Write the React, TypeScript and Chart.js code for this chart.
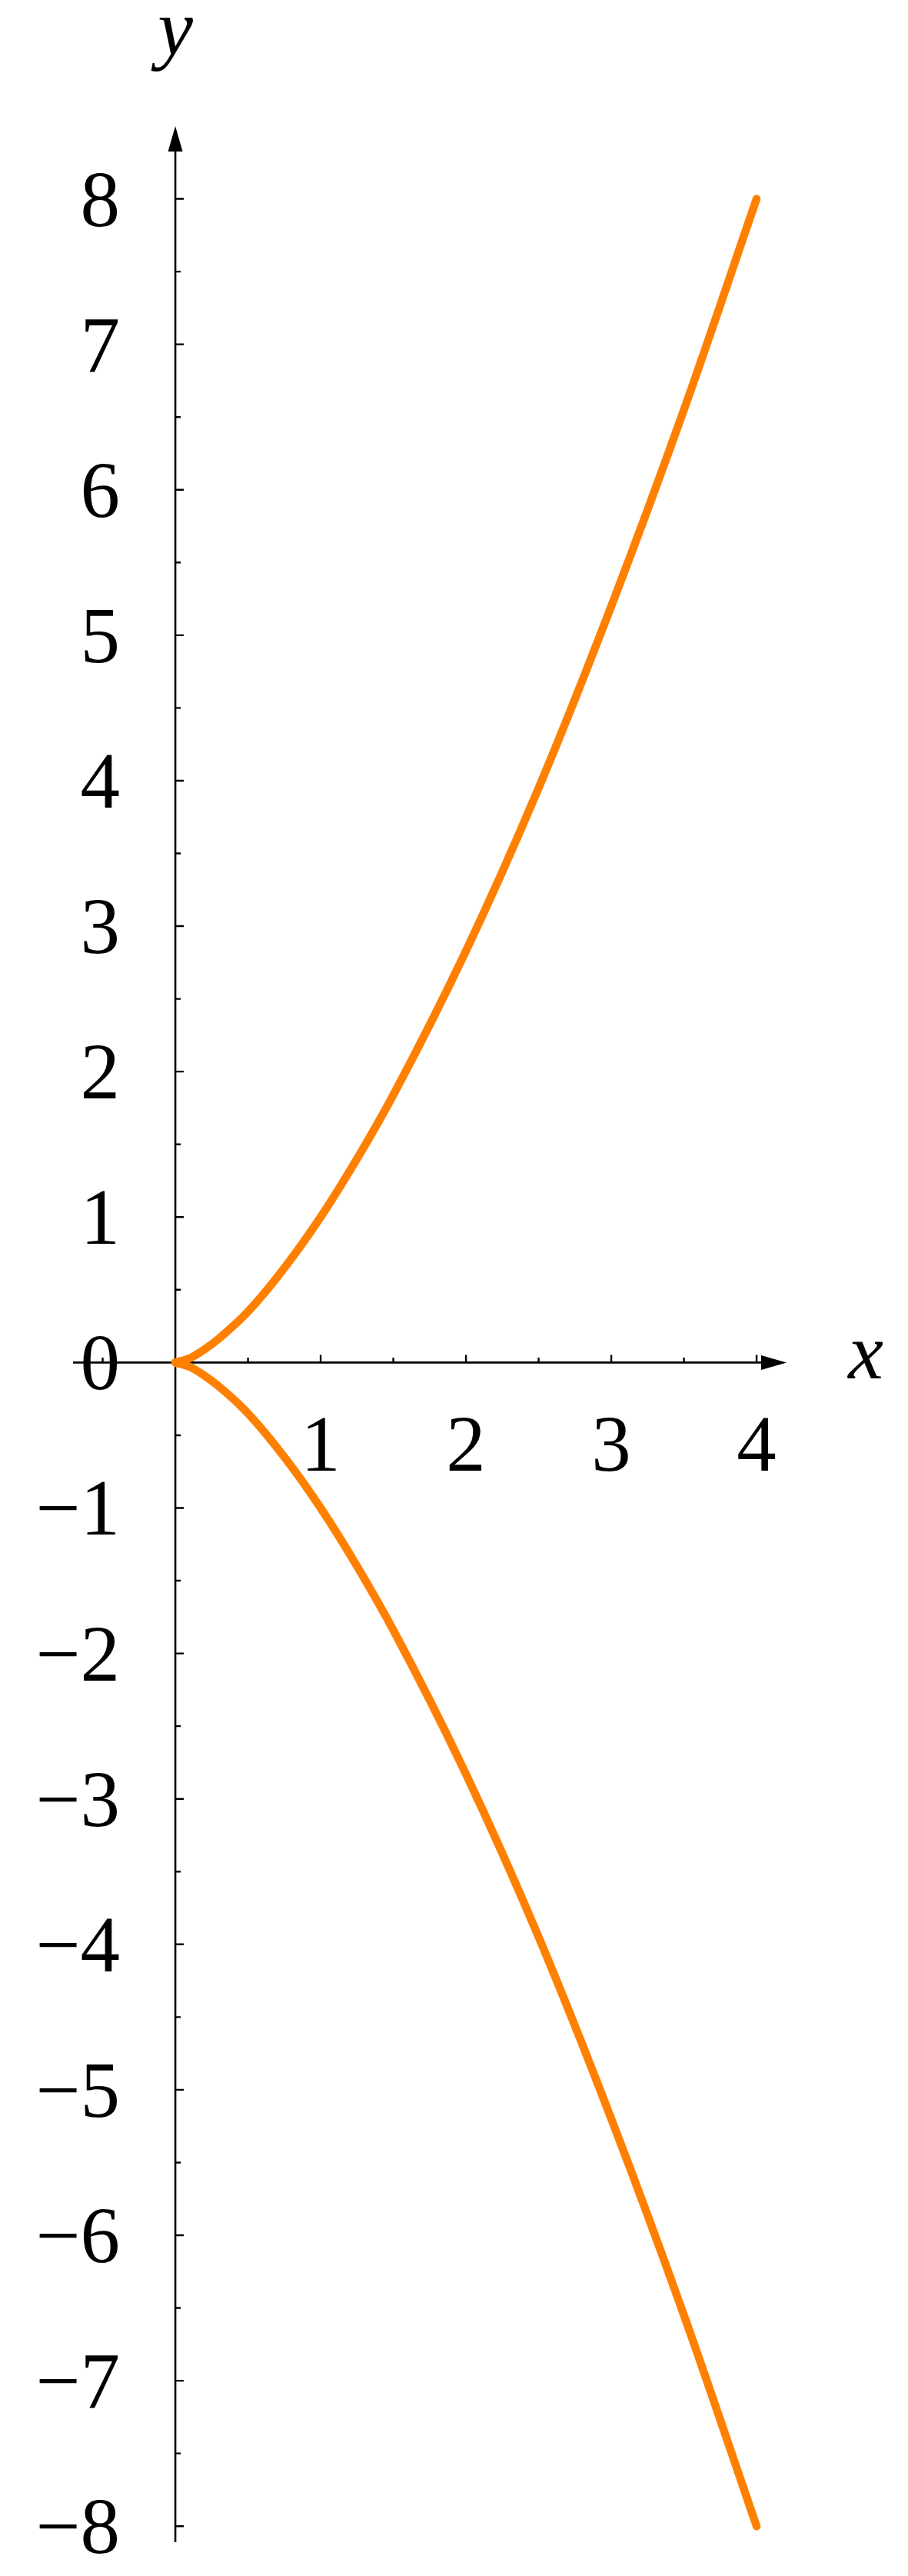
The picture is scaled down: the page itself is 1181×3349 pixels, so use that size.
import { useEffect, useRef } from 'react';
import { Chart, registerables } from 'chart.js';
import type { Plugin } from 'chart.js';

Chart.register(...registerables);

// points (both branches meet at the origin)
const xValues = [0, 0.1, 0.2, 0.3, 0.5, 0.75, 1, 1.25, 1.5, 2, 2.5, 3, 3.5, 4];
const upperY = [0, 0.03, 0.09, 0.165, 0.35, 0.65, 1, 1.4, 1.84, 2.83, 3.95, 5.2, 6.55, 8];
const lowerY = [0, -0.03, -0.09, -0.165, -0.35, -0.65, -1, -1.4, -1.84, -2.83, -3.95, -5.2, -6.55, -8];

// axis ticks
const xMajorTicks = [1, 2, 3, 4];
const xMinorTicks = [-0.5, 0.5, 1.5, 2.5, 3.5];
const yMajorTicks = [-8, -7, -6, -5, -4, -3, -2, -1, 0, 1, 2, 3, 4, 5, 6, 7, 8];
const yMinorTicks = [-7.5, -6.5, -5.5, -4.5, -3.5, -2.5, -1.5, -0.5, 0.5, 1.5, 2.5, 3.5, 4.5, 5.5, 6.5, 7.5];
const xTickLabels = ['1', '2', '3', '4'];
const yTickLabels = ['\u22128', '\u22127', '\u22126', '\u22125', '\u22124', '\u22123', '\u22122', '\u22121', '0', '1', '2', '3', '4', '5', '6', '7', '8'];

const X_MIN = -0.704;
const X_MAX = 4.206;
const Y_MIN = -8.11;
const Y_MAX = 8.5;

const FONT = '103px "Liberation Serif", "Times New Roman", serif';
const ITALIC = 'italic 103px "Liberation Serif", "Times New Roman", serif';

const mathAxes: Plugin<'scatter'> = {
  id: 'mathAxes',
  beforeDatasetsDraw(chart) {
    const { ctx } = chart;
    const xs = chart.scales.x;
    const ys = chart.scales.y;
    const x0 = xs.getPixelForValue(0);
    const y0 = ys.getPixelForValue(0);
    const xLeft = xs.getPixelForValue(X_MIN);
    const xTip = xs.getPixelForValue(X_MAX);
    const yBottom = ys.getPixelForValue(Y_MIN);
    const yTip = ys.getPixelForValue(Y_MAX);
    const arrowLen = 33;
    const arrowHalf = 9.5;

    ctx.save();
    ctx.strokeStyle = '#000';
    ctx.fillStyle = '#000';
    ctx.lineWidth = 2.6;
    ctx.lineCap = 'butt';

    // axis lines
    ctx.beginPath();
    ctx.moveTo(xLeft, y0);
    ctx.lineTo(xTip - arrowLen + 2, y0);
    ctx.moveTo(x0, yBottom);
    ctx.lineTo(x0, yTip + arrowLen - 2);
    ctx.stroke();

    // arrow heads
    ctx.beginPath();
    ctx.moveTo(xTip, y0);
    ctx.lineTo(xTip - arrowLen, y0 - arrowHalf);
    ctx.lineTo(xTip - arrowLen, y0 + arrowHalf);
    ctx.closePath();
    ctx.fill();
    ctx.beginPath();
    ctx.moveTo(x0, yTip);
    ctx.lineTo(x0 - arrowHalf, yTip + arrowLen);
    ctx.lineTo(x0 + arrowHalf, yTip + arrowLen);
    ctx.closePath();
    ctx.fill();

    // ticks
    ctx.lineWidth = 2.4;
    ctx.beginPath();
    xMajorTicks.forEach(v => {
      const px = xs.getPixelForValue(v);
      ctx.moveTo(px, y0);
      ctx.lineTo(px, y0 - 10);
    });
    xMinorTicks.forEach(v => {
      const px = xs.getPixelForValue(v);
      ctx.moveTo(px, y0);
      ctx.lineTo(px, y0 - 6.5);
    });
    yMajorTicks.forEach(v => {
      if (v === 0) return;
      const py = ys.getPixelForValue(v);
      ctx.moveTo(x0, py);
      ctx.lineTo(x0 + 11, py);
    });
    yMinorTicks.forEach(v => {
      const py = ys.getPixelForValue(v);
      ctx.moveTo(x0, py);
      ctx.lineTo(x0 + 7, py);
    });
    ctx.stroke();

    // tick labels
    ctx.font = FONT;
    ctx.textBaseline = 'alphabetic';
    ctx.textAlign = 'right';
    yMajorTicks.forEach((v, i) => {
      ctx.fillText(yTickLabels[i], x0 - 72, ys.getPixelForValue(v) + 35);
    });
    ctx.textAlign = 'center';
    xMajorTicks.forEach((v, i) => {
      ctx.fillText(xTickLabels[i], xs.getPixelForValue(v), y0 + 141);
    });

    // axis titles
    ctx.font = ITALIC;
    ctx.fillText('x', xTip + 103, y0 + 21);
    ctx.fillText('y', x0, yTip - 93);
    ctx.restore();
  },
};

export default function App() {
  const chartRef = useRef<HTMLCanvasElement>(null);
  const chartInstance = useRef<Chart<'scatter'> | null>(null);

  useEffect(() => {
    document.body.style.margin = '0';
    if (!chartRef.current) return;

    if (chartInstance.current) {
      chartInstance.current.destroy();
    }

    const ctx = chartRef.current.getContext('2d');
    if (!ctx) return;

    const lineStyle = {
      borderColor: 'rgb(255, 128, 0)',
      borderWidth: 10.5,
      borderCapStyle: 'round' as const,
      borderJoinStyle: 'round' as const,
      pointRadius: 0,
      showLine: true,
      fill: false,
      cubicInterpolationMode: 'monotone' as const,
    };

    chartInstance.current = new Chart(ctx, {
      type: 'scatter',
      data: {
        datasets: [
          { label: 'upper', data: xValues.map((x, i) => ({ x, y: upperY[i] })), ...lineStyle },
          { label: 'lower', data: xValues.map((x, i) => ({ x, y: lowerY[i] })), ...lineStyle },
        ],
      },
      options: {
        animation: false,
        responsive: true,
        maintainAspectRatio: false,
        layout: {
          padding: { left: 95, right: 158, top: 164, bottom: 44 },
        },
        plugins: {
          legend: { display: false },
          tooltip: { enabled: false },
        },
        scales: {
          x: { type: 'linear', min: X_MIN, max: X_MAX, display: false },
          y: { type: 'linear', min: Y_MIN, max: Y_MAX, display: false },
        },
      },
      plugins: [mathAxes],
    });

    return () => {
      if (chartInstance.current) {
        chartInstance.current.destroy();
        chartInstance.current = null;
      }
    };
  }, []);

  return (
    <div style={{ position: 'relative', width: 1181, height: 3349, background: '#fff' }}>
      <canvas ref={chartRef} />
    </div>
  );
}
